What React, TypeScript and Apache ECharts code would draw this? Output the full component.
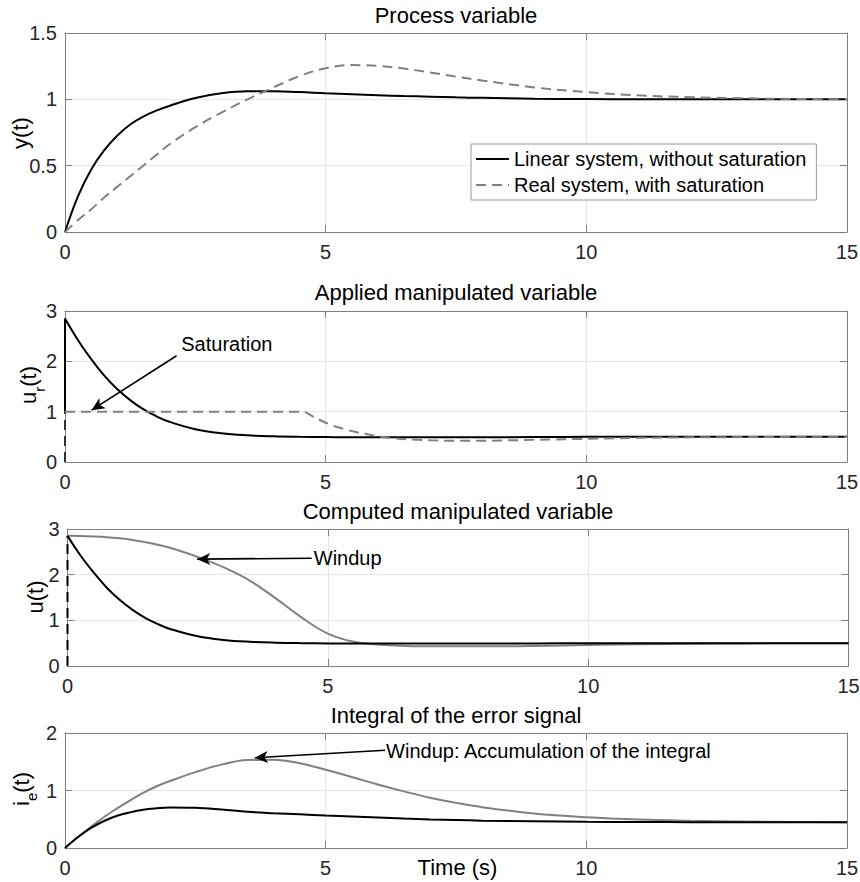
import React, { useEffect, useRef } from "react";
import * as echarts from "echarts";

// ---------- data ----------
const T = [0, 0.25, 0.5, 0.75, 1, 1.25, 1.5, 1.75, 2, 2.5, 3, 3.5, 4, 4.5, 5, 5.5, 6, 6.5, 7, 7.5, 8, 9, 10, 11, 12, 13, 14, 15];

// Panel 1: process variable y(t)
const yLinear = [0, 0.27, 0.47, 0.615, 0.725, 0.81, 0.87, 0.915, 0.95, 1.01, 1.045, 1.06, 1.06, 1.055, 1.045, 1.038, 1.031, 1.025, 1.02, 1.015, 1.011, 1.005, 1.002, 1.0, 1.0, 1.0, 1.0, 1.0];
const yReal = [0, 0.09, 0.17, 0.26, 0.34, 0.42, 0.5, 0.58, 0.66, 0.79, 0.9, 1.0, 1.09, 1.175, 1.235, 1.258, 1.252, 1.232, 1.203, 1.172, 1.142, 1.09, 1.055, 1.03, 1.016, 1.008, 1.003, 1.0];

// Panel 2 & 3: linear manipulated variable (applied = computed)
const uLinear = [2.85, 2.42, 2.05, 1.72, 1.45, 1.23, 1.05, 0.91, 0.8, 0.65, 0.57, 0.53, 0.51, 0.5, 0.495, 0.49, 0.49, 0.49, 0.49, 0.49, 0.49, 0.495, 0.5, 0.5, 0.5, 0.5, 0.5, 0.5];

// Panel 2: applied manipulated variable of the saturated system
const tUrReal = [0, 4.6, 4.8, 5.0, 5.2, 5.4, 5.6, 5.8, 6.0, 6.3, 6.6, 7, 7.5, 8, 9, 10, 11, 12, 13, 14, 15];
const urReal = [1, 1, 0.88, 0.78, 0.7, 0.64, 0.59, 0.55, 0.51, 0.47, 0.45, 0.43, 0.42, 0.42, 0.44, 0.46, 0.48, 0.49, 0.495, 0.5, 0.5];
const urStepLinear = [[0, 1], [0, 2.85]];
const urStepReal = [[0, 0], [0, 1]];

// Panel 3: computed manipulated variable of the saturated system
const uReal = [2.85, 2.845, 2.835, 2.82, 2.795, 2.76, 2.71, 2.65, 2.58, 2.39, 2.16, 1.87, 1.48, 1.06, 0.71, 0.53, 0.465, 0.44, 0.432, 0.43, 0.43, 0.44, 0.46, 0.475, 0.485, 0.495, 0.5, 0.5];
const uStep = [[0, 0], [0, 2.85]];

// Panel 4: integral of the error signal
const ieLinear = [0, 0.19, 0.35, 0.47, 0.56, 0.62, 0.665, 0.69, 0.705, 0.7, 0.67, 0.63, 0.605, 0.585, 0.565, 0.548, 0.53, 0.512, 0.497, 0.486, 0.476, 0.465, 0.456, 0.452, 0.45, 0.45, 0.45, 0.45];
const ieReal = [0, 0.19, 0.37, 0.54, 0.69, 0.83, 0.96, 1.07, 1.16, 1.32, 1.45, 1.53, 1.535, 1.475, 1.36, 1.235, 1.105, 0.985, 0.875, 0.785, 0.71, 0.6, 0.535, 0.495, 0.473, 0.46, 0.453, 0.45];

// annotations (data coordinates)
const satArrow = { from: [2.14, 2.11], to: [0.51, 1.03], text: "Saturation", textAt: [2.22, 2.34] };
const windupArrow = { from: [4.69, 2.36], to: [2.49, 2.34], text: "Windup", textAt: [4.72, 2.36] };
const intArrow = { from: [6.14, 1.7], to: [3.64, 1.57], text: "Windup: Accumulation of the integral", textAt: [6.15, 1.69] };

const titles = ["Process variable", "Applied manipulated variable", "Computed manipulated variable", "Integral of the error signal"];
const legendNames = ["Linear system, without saturation", "Real system, with saturation"];
const yRanges = [
  { min: 0, max: 1.5, interval: 0.5 },
  { min: 0, max: 3, interval: 1 },
  { min: 0, max: 3, interval: 1 },
  { min: 0, max: 2, interval: 1 },
];

// ---------- style ----------
const FONT = "'Liberation Sans', Arial, Helvetica, sans-serif";
const AX = "#808080";
const GRIDC = "#e6e6e6";
const TXT = "#262626";
const GRAY = "#808080";
const DASH = [10, 6];

const grids = [
  { left: 65, top: 33, width: 782, height: 199 },
  { left: 65, top: 311, width: 782, height: 151 },
  { left: 67.5, top: 529, width: 781, height: 137 },
  { left: 65, top: 733, width: 782, height: 115 },
];

const pairs = (t: number[], v: number[]) => t.map((x, i) => [x, v[i]]);

function arrowMark(a: { from: number[]; to: number[] }) {
  return {
    silent: true,
    symbol: ["none", "arrow"],
    symbolSize: [9, 13],
    lineStyle: { color: "#000", width: 1.6, type: "solid" },
    label: { show: false },
    emphasis: { disabled: true },
    data: [[{ coord: a.from }, { coord: a.to }]],
  };
}
function textMark(a: { text: string; textAt: number[] }) {
  return {
    silent: true,
    data: [
      {
        coord: a.textAt,
        symbol: "circle",
        symbolSize: 1,
        itemStyle: { color: "rgba(0,0,0,0)" },
        label: {
          show: true,
          formatter: a.text,
          position: "right",
          distance: 0,
          fontSize: 20,
          color: "#000",
          fontFamily: FONT,
        },
      },
    ],
  };
}

function txt(text: string, x: number, y: number, size: number, rot = 0, rich?: any) {
  return {
    type: "text",
    x,
    y,
    rotation: rot,
    silent: true,
    style: {
      text,
      fontSize: size,
      fontFamily: FONT,
      fill: "#000",
      align: "center",
      verticalAlign: "middle",
      textAlign: "center",
      textVerticalAlign: "middle",
      rich,
    },
  };
}

export default function App() {
  const ref = useRef<HTMLDivElement>(null);
  useEffect(() => {
    if (!ref.current) return;
    const chart = echarts.init(ref.current, undefined, { renderer: "svg" });

    const xAxis: any[] = [];
    const yAxis: any[] = [];
    grids.forEach((_, i) => {
      const common = {
        type: "value",
        gridIndex: i,
        min: 0,
        max: 15,
        interval: 5,
        axisLine: { show: true, onZero: false, lineStyle: { color: AX, width: 1 } },
        axisTick: { show: true, inside: true, length: 7, lineStyle: { color: AX, width: 1 } },
      };
      xAxis.push({
        ...common,
        position: "bottom",
        axisLabel: { show: true, margin: 10, fontSize: 20, color: TXT, fontFamily: FONT },
        splitLine: { show: true, lineStyle: { color: GRIDC, width: 1 } },
      });
      xAxis.push({
        ...common,
        position: "top",
        axisLabel: { show: false },
        splitLine: { show: false },
      });
      const yc = {
        type: "value",
        gridIndex: i,
        ...yRanges[i],
        axisLine: { show: true, onZero: false, lineStyle: { color: AX, width: 1 } },
        axisTick: { show: true, inside: true, length: 7, lineStyle: { color: AX, width: 1 } },
      };
      yAxis.push({
        ...yc,
        position: "left",
        axisLabel: { show: true, margin: 8, fontSize: 20, color: TXT, fontFamily: FONT },
        splitLine: { show: true, lineStyle: { color: GRIDC, width: 1 } },
      });
      yAxis.push({
        ...yc,
        position: "right",
        axisLabel: { show: false },
        splitLine: { show: false },
      });
    });

    const line = (name: string, p: number, data: number[][], color: string, dashed: boolean, smooth: boolean, extra: any = {}) => ({
      type: "line",
      name,
      xAxisIndex: 2 * p,
      yAxisIndex: 2 * p,
      data,
      symbol: "none",
      showSymbol: false,
      smooth: smooth ? 0.4 : false,
      lineStyle: { color, width: 2, type: dashed ? DASH : "solid" },
      itemStyle: { color },
      emphasis: { disabled: true },
      silent: true,
      ...extra,
    });

    const series = [
      line(legendNames[0], 0, pairs(T, yLinear), "#000", false, true),
      line(legendNames[1], 0, pairs(T, yReal), GRAY, true, true),

      line("ur step linear", 1, urStepLinear, "#000", false, false),
      line("ur linear", 1, pairs(T, uLinear), "#000", false, true),
      line("ur step real", 1, urStepReal, "#333", true, false),
      line("ur real", 1, pairs(tUrReal, urReal), GRAY, true, false, {
        markLine: arrowMark(satArrow),
        markPoint: textMark(satArrow),
      }),

      line("u step", 2, uStep, "#000", true, false),
      line("u real", 2, pairs(T, uReal), GRAY, false, true, {
        markLine: arrowMark(windupArrow),
        markPoint: textMark(windupArrow),
      }),
      line("u linear", 2, pairs(T, uLinear), "#000", false, true),

      line("ie real", 3, pairs(T, ieReal), GRAY, false, true, {
        markLine: arrowMark(intArrow),
        markPoint: textMark(intArrow),
      }),
      line("ie linear", 3, pairs(T, ieLinear), "#000", false, true),
    ];

    const sub = {
      a: { fontSize: 22, lineHeight: 22, verticalAlign: "top", fontFamily: FONT, color: "#000" },
      s: { fontSize: 15, lineHeight: 15, padding: [14, 0, 0, 0], verticalAlign: "top", fontFamily: FONT, color: "#000" },
    };

    const graphic = [
      txt(titles[0], 456, 15, 22),
      txt(titles[1], 456, 292.5, 22),
      txt(titles[2], 458, 511, 22),
      txt(titles[3], 456, 715, 22),
      txt("y(t)", 20, 133, 22, Math.PI / 2),
      txt("{a|u}{s|r}{a|(t)}", 28.5, 385, 22, Math.PI / 2, sub),
      txt("u(t)", 35, 597, 22, Math.PI / 2),
      txt("{a|i}{s|e}{a|(t)}", 21, 789, 22, Math.PI / 2, sub),
      txt("Time (s)", 457.5, 867, 22),
    ];

    chart.setOption({
      animation: false,
      backgroundColor: "#fff",
      textStyle: { fontFamily: FONT },
      grid: grids.map((g) => ({ ...g, containLabel: false, outerBoundsMode: "none" })),
      xAxis,
      yAxis,
      legend: {
        data: legendNames,
        orient: "vertical",
        left: 471,
        top: 144,
        itemWidth: 33,
        itemHeight: 14,
        itemGap: 6,
        padding: [5, 10, 5, 4],
        backgroundColor: "#fff",
        borderColor: "#9a9a9a",
        borderWidth: 1,
        borderRadius: 0,
        selectedMode: false,
        itemStyle: { opacity: 0 },
        textStyle: { fontSize: 20, color: "#000", fontFamily: FONT },
      },
      series,
      graphic,
    });
    return () => chart.dispose();
  }, []);
  return <div ref={ref} style={{ position: "absolute", left: 0, top: 0, width: 860, height: 882 }} />;
}
